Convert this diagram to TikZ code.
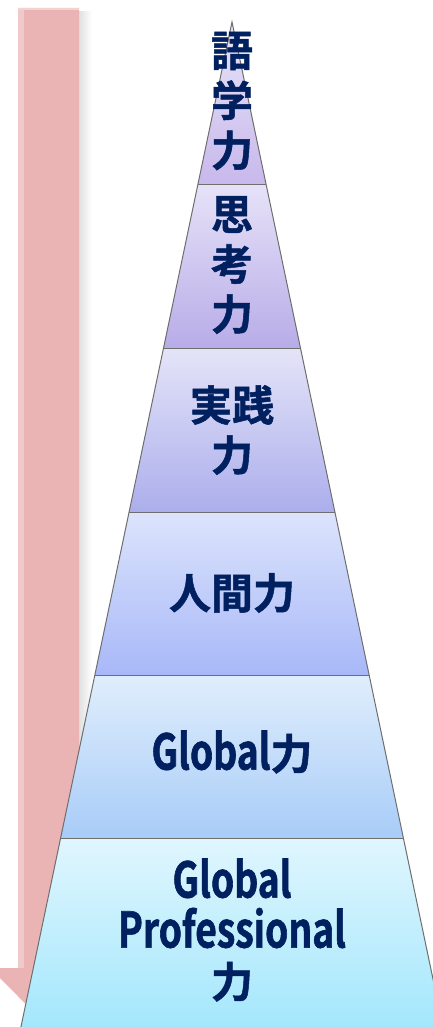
\documentclass[tikz,border=0pt]{standalone}
\usepackage{fontspec}
\usepackage{tikz}
\newfontfamily\jpfont[BoldFont={Noto Sans CJK JP Bold},BoldFeatures={FakeBold=1.2}]{Noto Sans CJK JP}
\newfontfamily\latfont[BoldFont={Noto Sans CJK JP Bold},BoldFeatures={FakeStretch=0.76,FakeBold=1.2}]{Noto Sans CJK JP}
\newcommand{\lat}[1]{{\latfont\bfseries\fontsize{49}{50}\selectfont #1}}
\definecolor{txtblue}{RGB}{0,32,96}
\definecolor{arrowpink}{RGB}{234,180,180}
\definecolor{edgegray}{RGB}{110,110,110}
\tikzset{
  label/.style={text=txtblue, font=\jpfont\bfseries\fontsize{42}{50}\selectfont, align=center, inner sep=0pt},
  layer/.style={draw=edgegray, line width=1pt}
}

\begin{document}
\begin{tikzpicture}[x=1pt, y=-1pt]
            \useasboundingbox (0,0) rectangle (433,1027);
            \clip (0,0) rectangle (433,1027);

            % Arrow
            \shade[left color=black!12, right color=white] (79,12) rectangle (92,968);
            \fill[arrowpink] (18,8) -- (79,8) -- (79,968) -- (107,968) -- (48.5,1027) -- (-10,968) -- (18,968) -- cycle;
            \fill[arrowpink!70!white] (18,8) rectangle (24,968);
            \fill[arrowpink!60!white] (18,8) rectangle (79,10);

            % Layers
            \shade[top color={rgb,255:red,232;green,228;blue,248}, bottom color={rgb,255:red,200;green,184;blue,236}] (232,22) -- (266.2,185) -- (197.8,185) -- cycle;
            \shade[top color={rgb,255:red,230;green,226;blue,248}, bottom color={rgb,255:red,184;green,172;blue,232}] (197.8,185) -- (266.2,185) -- (300.5,348) -- (163.5,348) -- cycle;
            \shade[top color={rgb,255:red,228;green,228;blue,248}, bottom color={rgb,255:red,172;green,174;blue,236}] (163.5,348) -- (300.5,348) -- (334.9,512) -- (129.1,512) -- cycle;
            \shade[top color={rgb,255:red,220;green,228;blue,252}, bottom color={rgb,255:red,168;green,184;blue,248}] (129.1,512) -- (334.9,512) -- (369.1,675) -- (94.9,675) -- cycle;
            \shade[top color={rgb,255:red,224;green,238;blue,252}, bottom color={rgb,255:red,168;green,204;blue,248}] (94.9,675) -- (369.1,675) -- (403.4,838) -- (60.6,838) -- cycle;
            \shade[top color={rgb,255:red,224;green,246;blue,254}, bottom color={rgb,255:red,160;green,230;blue,252}] (60.6,838) -- (403.4,838) -- (445.8,1040) -- (18.2,1040) -- cycle;

            % Outlines
            \draw[layer] (18.2,1040) -- (232,22) -- (445.8,1040);
            \draw[layer] (197.8,185) -- (266.2,185);
            \draw[layer] (163.5,348) -- (300.5,348);
            \draw[layer] (129.1,512) -- (334.9,512);
            \draw[layer] (94.9,675) -- (369.1,675);
            \draw[layer] (60.6,838) -- (403.4,838);

            % Nodes
            \node[label] (gogaku) at (232,101) {語\\学\\力};
            \node[label] (shiko) at (232,265) {思\\考\\力};
            \node[label] (jissen) at (232,430) {実践\\力};
            \node[label] (ningen) at (232,593) {人間力};
            \node[label] (global) at (232,752) {\lat{Global}力};
            \node[label] (globalpro) at (232,930) {\lat{Global}\\\lat{Professional}\\力};
        \end{tikzpicture}
\end{document}
